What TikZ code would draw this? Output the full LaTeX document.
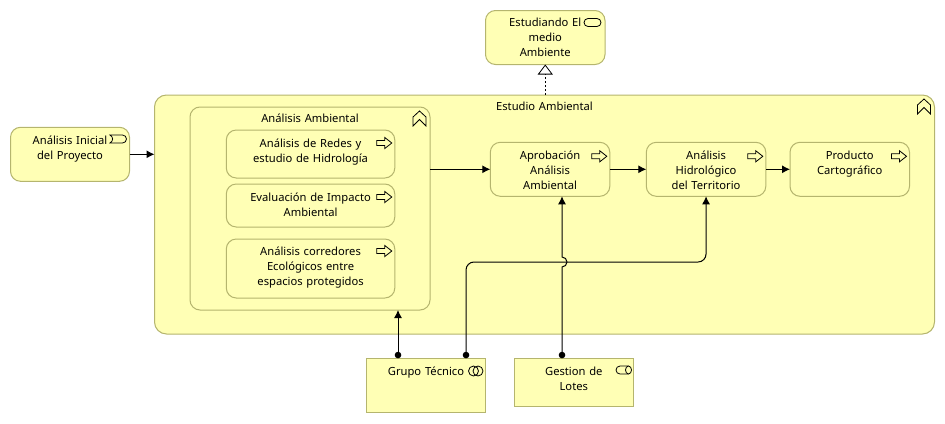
\documentclass[tikz,border=0pt]{standalone}
\usepackage{fontspec}
\setmainfont{Noto Sans}
\usetikzlibrary{arrows.meta}
\definecolor{elemfill}{HTML}{FFFFB5}
\definecolor{elemline}{HTML}{B5B56E}
\tikzset{
  x=1pt,y=-1pt,
  elem/.style n args={3}{draw=elemline,fill=elemfill,line width=1pt,inner sep=0pt,outer sep=0pt,anchor=north west,
    text width=#1 pt,minimum width=#1 pt,text height=#3 pt,text depth=#2 pt-#3 pt,align=center,
    font=\fontsize{11.2}{15}\selectfont,text=black},
  rnd/.style={rounded corners=10pt},
  link/.style={line width=1pt,draw=black},
  trigger/.style={link,-{Latex[length=8pt,width=8pt]}},
  assign/.style={link,{Circle[length=6.5pt,width=6.5pt]}-{Latex[length=8pt,width=8pt]}},
  realize/.style={line width=.8pt,draw=black,dash pattern=on 2pt off 2pt,-{Triangle[length=10pt,width=15pt,fill=white,line width=.8pt]}},
  icon/.style={draw=black,line width=.8pt,fill=elemfill},
  proc/.pic={\path[icon] (-15,-2.5) -- (-7,-2.5) -- (-7,-5.5) -- (0,0) -- (-7,5.5) -- (-7,2.5) -- (-15,2.5) -- cycle;},
  chev/.pic={\path[icon] (-17,10) -- (-10.5,4) -- (-4,10) -- (-4,19) -- (-10.5,12.5) -- (-17,19) -- cycle;},
}
\begin{document}
\begin{tikzpicture}
\useasboundingbox (0,0) rectangle (945,423);
% elements
\node[elem={119.5}{54}{15.5},rnd] (goal) at (485.5,10.5) {Estudiando El\\medio\\Ambiente};
\node[elem={119}{54}{17},rnd] (inicial) at (10.5,127.3) {Análisis Inicial\\del Proyecto};
\node[elem={780}{239}{15},rounded corners=12pt] (estudio) at (154.5,95) {Estudio Ambiental};
\node[elem={240}{203}{15},rnd] (ambiental) at (190,107) {Análisis Ambiental};
\node[elem={168.5}{48}{17},rnd] (redes) at (226.3,130) {Análisis de Redes y\\estudio de Hidrología};
\node[elem={168.5}{43}{17},rnd] (impacto) at (226.3,184) {Evaluación de Impacto\\Ambiental};
\node[elem={168.5}{59}{16},rnd] (corredores) at (226.3,239) {Análisis corredores\\Ecológicos entre\\espacios protegidos};
\node[elem={119.5}{54}{17},rnd] (aprob) at (490.3,142.3) {Aprobación\\Análisis\\Ambiental};
\node[elem={119.5}{54}{17},rnd] (hidro) at (646.3,142.3) {Análisis\\Hidrológico\\del Territorio};
\node[elem={119.5}{54}{17},rnd] (producto) at (790,142.3) {Producto\\Cartográfico};
\node[elem={119.4}{54}{17}] (grupo) at (366.3,358.3) {Grupo Técnico};
\node[elem={119}{48}{17}] (gestion) at (514.3,358.3) {Gestion de\\Lotes};
% icons
\pic at ([shift={(-3,13)}]redes.north east) {proc};
\pic at ([shift={(-3,13)}]impacto.north east) {proc};
\pic at ([shift={(-3,12)}]corredores.north east) {proc};
\pic at ([shift={(-3,14)}]aprob.north east) {proc};
\pic at ([shift={(-3,14)}]hidro.north east) {proc};
\pic at ([shift={(-3,14)}]producto.north east) {proc};
\pic at (estudio.north east) {chev};
\pic at (ambiental.north east) {chev};
% event icon
\path[icon] (110,135) -- (122.5,135) arc[start angle=90,end angle=-90,radius=4pt] -- (110,143) .. controls (113.5,141) and (113.5,137) .. (110,135) -- cycle;
% service icon
\path[icon] (588,18.5) -- (597,18.5) arc[start angle=90,end angle=-90,radius=4pt] -- (588,26.5) arc[start angle=270,end angle=90,radius=4pt] -- cycle;
% collaboration icon
\draw[icon] (473.5,371) circle[radius=5pt];
\draw[icon,fill=none] (478,371) circle[radius=5pt];
% role icon
\path[icon] (620,366) -- (628.5,366) arc[start angle=90,end angle=-90,x radius=3pt,y radius=4pt] -- (620,374) arc[start angle=270,end angle=90,radius=4pt] -- cycle;
\draw[icon,fill=none] (628.5,366) arc[start angle=90,end angle=270,x radius=3pt,y radius=4pt];
% connectors
\coordinate (g1) at (398,358.3);
\coordinate (g2) at (466,358.3);
\coordinate (l1) at (562,358.3);
\coordinate (hopa) at (562,267);
\draw[realize] (estudio.north -| goal.south) -- (goal.south);
\draw[trigger] (inicial.east) -- (inicial.east -| estudio.west);
\draw[trigger] (aprob.west -| ambiental.east) -- (aprob.west);
\draw[trigger] (aprob.east) -- (hidro.west);
\draw[trigger] (hidro.east) -- (producto.west);
\draw[assign] (g1) -- (g1 |- ambiental.south);
\draw[assign,rounded corners=8pt] (g2) -- (466,262) -- (hidro.south |- 0,262) -- (hidro.south);
\draw[assign] (l1) -- (hopa) arc[start angle=-90,end angle=90,radius=5pt] -- (hopa |- aprob.south);
\end{tikzpicture}
\end{document}
